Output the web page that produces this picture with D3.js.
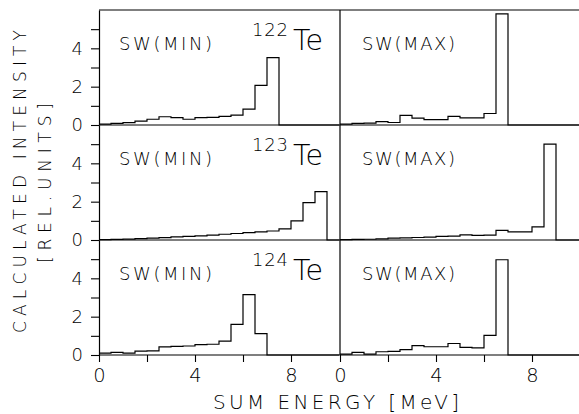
<!DOCTYPE html>
<html>
<head>
<meta charset="utf-8">
<script src="https://cdn.jsdelivr.net/npm/d3@7"></script>
<style>
  html, body { margin: 0; padding: 0; background: #fff; }
  svg { display: block; }
  text { font-family: 'DejaVu Sans', sans-serif; font-weight: 200; fill: #000; }
</style>
</head>
<body>
<div id="chart"></div>
<script>
// Energy bins (MeV), lower edges, 0.5 MeV wide
const binStarts = [0, 0.5, 1, 1.5, 2, 2.5, 3, 3.5, 4, 4.5, 5, 5.5, 6, 6.5, 7, 7.5, 8, 8.5, 9, 9.5];
const binWidth = 0.5;

// Calculated intensities [rel. units]
const min122 = [0.05, 0.08, 0.12, 0.2, 0.3, 0.43, 0.38, 0.3, 0.38, 0.4, 0.45, 0.52, 0.83, 2.07, 3.52, 0, 0, 0, 0, 0];
const max122 = [0.05, 0.08, 0.1, 0.18, 0.13, 0.5, 0.36, 0.28, 0.28, 0.45, 0.37, 0.37, 0.6, 5.8, 0, 0, 0, 0, 0, 0];
const min123 = [0.02, 0.03, 0.05, 0.07, 0.1, 0.12, 0.16, 0.19, 0.22, 0.25, 0.3, 0.34, 0.38, 0.42, 0.47, 0.58, 1.0, 1.95, 2.52, 0];
const max123 = [0.02, 0.03, 0.04, 0.06, 0.1, 0.11, 0.13, 0.15, 0.19, 0.2, 0.27, 0.24, 0.25, 0.5, 0.42, 0.42, 0.68, 5.0, 0, 0];
const min124 = [0.1, 0.14, 0.1, 0.2, 0.22, 0.42, 0.45, 0.47, 0.54, 0.56, 0.72, 1.6, 3.15, 1.12, 0, 0, 0, 0, 0, 0];
const max124 = [0.05, 0.14, 0.05, 0.17, 0.19, 0.28, 0.49, 0.43, 0.43, 0.6, 0.4, 0.37, 1.02, 4.97, 0, 0, 0, 0, 0, 0];

const isotopes = ['122', '123', '124'];
const columnLabels = ['SW(MIN)', 'SW(MAX)'];
const panelSeries = [[min122, max122], [min123, max123], [min124, max124]];

const xTicks = [0, 2, 4, 6, 8];
const xTickLabels = [0, 4, 8];
const yTicks = [0, 1, 2, 3, 4, 5];
const yTickLabels = [0, 2, 4];

const W = 579, H = 414;
const plotLeft = 99, plotMid = 340, plotTop = 10, panelH = 115;

const svg = d3.select('#chart').append('svg')
    .attr('width', W)
    .attr('height', H);

// one x scale per column
const xScales = [
    d3.scaleLinear().domain([0, 10]).range([plotLeft, plotMid - 1]),
    d3.scaleLinear().domain([0, 10]).range([plotMid, plotMid + 240])
];

const line = d3.line();

panelSeries.forEach((pair, row) => {
    const y0 = plotTop + panelH * (row + 1);
    const y = d3.scaleLinear().domain([0, 6]).range([y0, y0 - panelH]);

    // baseline across both columns
    svg.append('line')
        .attr('x1', plotLeft).attr('x2', W)
        .attr('y1', y(0)).attr('y2', y(0))
        .attr('stroke', '#000').attr('stroke-width', 1.2);

    // left y axis
    const yAxis = d3.axisLeft(y)
        .tickValues(yTicks)
        .tickSize(8)
        .tickSizeOuter(0)
        .tickPadding(8)
        .tickFormat(d => yTickLabels.includes(d) ? d : '');
    const ga = svg.append('g')
        .attr('transform', `translate(${plotLeft},0)`)
        .call(yAxis);
    ga.attr('font-family', null);
    ga.select('.domain').attr('stroke-width', 1.2);
    ga.selectAll('.tick line').attr('stroke-width', 1.1);
    ga.selectAll('.tick text')
        .style('font-size', '18px');

    pair.forEach((values, col) => {
        const x = xScales[col];

        // histogram outline
        const pts = [];
        binStarts.forEach((b, i) => {
            pts.push([x(b), y(values[i])]);
            pts.push([x(b + binWidth), y(values[i])]);
        });
        svg.append('path')
            .attr('d', line(pts))
            .attr('fill', 'none')
            .attr('stroke', '#000')
            .attr('stroke-width', 1.2);

        // panel label
        svg.append('text')
            .attr('x', col === 0 ? 119 : 362)
            .attr('y', y0 - panelH + 40)
            .attr('textLength', 93)
            .attr('lengthAdjust', 'spacing')
            .style('font-size', '18px')
            .text(columnLabels[col]);
    });

    // isotope label
    const iso = svg.append('text')
        .attr('x', 252)
        .attr('y', y0 - panelH + 40);
    iso.append('tspan')
        .attr('dy', -14)
        .attr('textLength', 36)
        .attr('lengthAdjust', 'spacing')
        .style('font-size', '18px')
        .text(isotopes[row]);
    iso.append('tspan')
        .attr('x', 293)
        .attr('dy', 14)
        .style('font-size', '28.5px')
        .text('Te');

    // x axes on bottom row
    if (row === 2) {
        xScales.forEach(x => {
            const xAxis = d3.axisBottom(x)
                .tickValues(xTicks)
                .tickSize(7)
                .tickSizeOuter(0)
                .tickPadding(6)
                .tickFormat(d => xTickLabels.includes(d) ? d : '');
            const gx = svg.append('g')
                .attr('transform', `translate(0,${y0})`)
                .call(xAxis);
            gx.attr('font-family', null);
            gx.select('.domain').remove();
            gx.selectAll('.tick line').attr('stroke-width', 1.1);
            gx.selectAll('.tick text')
                .style('font-size', '19.5px');
        });
    }
});

// top border and column divider
svg.append('line')
    .attr('x1', plotLeft).attr('x2', W)
    .attr('y1', plotTop).attr('y2', plotTop)
    .attr('stroke', '#000').attr('stroke-width', 1.2);
svg.append('line')
    .attr('x1', plotMid).attr('x2', plotMid)
    .attr('y1', plotTop).attr('y2', plotTop + panelH * 3)
    .attr('stroke', '#000').attr('stroke-width', 1.2);

// axis titles
svg.append('text')
    .attr('x', 213).attr('y', 409)
    .attr('textLength', 246)
    .attr('lengthAdjust', 'spacing')
    .style('font-size', '20px')
    .text('SUM ENERGY [MeV]');

svg.append('text')
    .attr('transform', 'translate(26,333) rotate(-90)')
    .attr('textLength', 303)
    .attr('lengthAdjust', 'spacing')
    .style('font-size', '17px')
    .text('CALCULATED INTENSITY');

svg.append('text')
    .attr('transform', 'translate(51,263) rotate(-90)')
    .attr('textLength', 160)
    .attr('lengthAdjust', 'spacing')
    .style('font-size', '17px')
    .text('[REL.UNITS]');
</script>
</body>
</html>
